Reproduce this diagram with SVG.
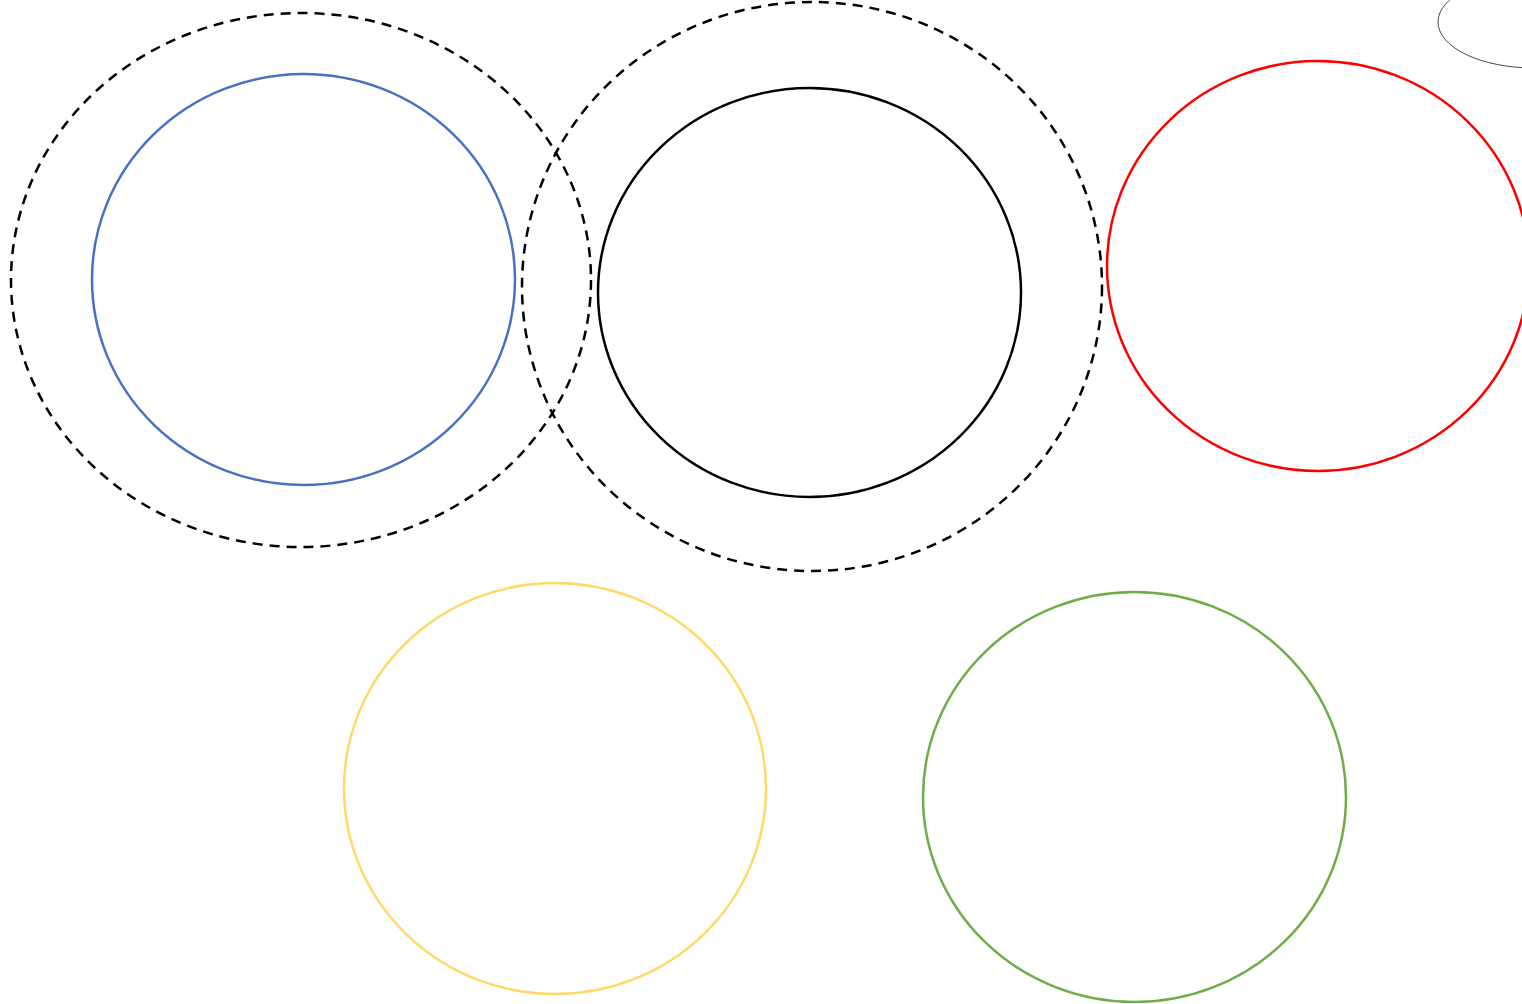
<svg xmlns="http://www.w3.org/2000/svg" width="1522" height="1004" viewBox="0 0 1522 1004">
<style>
.o{fill:none;stroke-width:2.5}
.d{fill:none;stroke:#000;stroke-width:2.5;stroke-dasharray:10 7}
</style>
<rect width="1522" height="1004" fill="#fff"/>
<g id="dashed-left"><ellipse class="d" cx="301" cy="280" rx="290" ry="267"/></g>
<g id="dashed-mid"><ellipse class="d" cx="812" cy="286.5" rx="290" ry="284.5"/></g>
<g id="blue"><ellipse class="o" stroke="#4472C4" cx="303.5" cy="279.5" rx="211.5" ry="205.5"/></g>
<g id="black"><ellipse class="o" stroke="#000" cx="809.5" cy="292.5" rx="211.5" ry="204.5"/></g>
<g id="red"><ellipse class="o" stroke="#FF0000" cx="1318" cy="266" rx="211" ry="205"/></g>
<g id="corner"><ellipse fill="none" stroke="#333" stroke-width="0.9" cx="1534" cy="22" rx="96" ry="46"/></g>
<g id="yellow"><ellipse class="o" stroke="#FFD966" cx="555" cy="788.5" rx="211" ry="205.5"/></g>
<g id="green"><ellipse class="o" stroke="#70AD47" cx="1134.5" cy="797" rx="211.5" ry="205"/></g>
<g id="connectors"></g>
</svg>
